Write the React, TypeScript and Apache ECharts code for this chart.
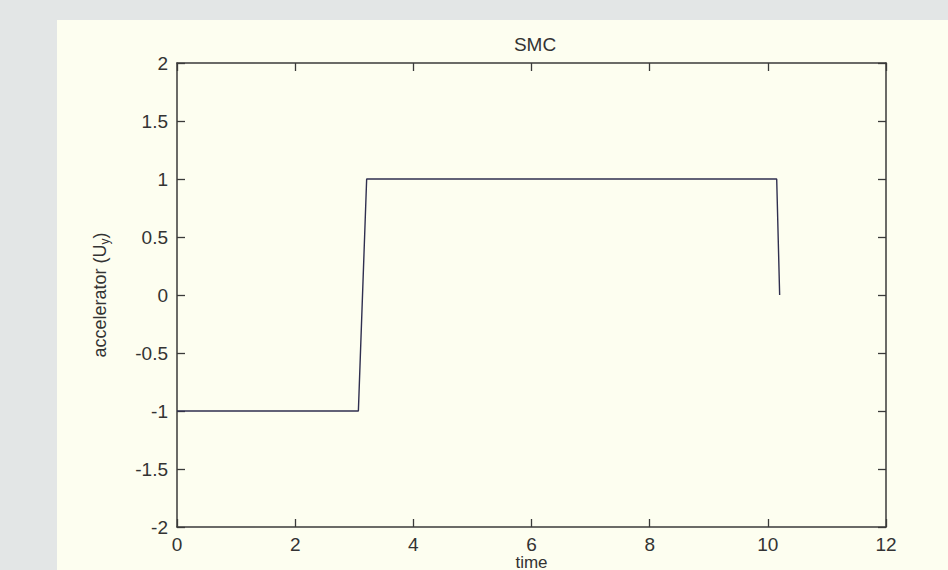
import React, { useEffect, useRef } from "react";
import * as echarts from "echarts";

const timeValues = [0, 3.07, 3.21, 10.15, 10.2];
const accelValues = [-1, -1, 1, 1, 0];
const xTicks = { min: 0, max: 12, interval: 2 };
const yTicks = { min: -2, max: 2, interval: 0.5 };
const titleText = "SMC";
const xName = "time";

const FONT = "'Liberation Sans', Arial, sans-serif";
const AXIS_COLOR = "#3a3a3a";
const TEXT_COLOR = "#333333";

export default function App() {
  const ref = useRef<HTMLDivElement>(null);
  useEffect(() => {
    document.body.style.margin = "0";
    if (!ref.current) return;
    const chart = echarts.init(ref.current, undefined, { renderer: "svg" });
    const data = timeValues.map((t, i) => [t, accelValues[i]]);
    const axisLine = { show: true, onZero: false, lineStyle: { color: AXIS_COLOR, width: 1.5 } };
    const axisTick = { show: true, inside: true, length: 8, lineStyle: { color: AXIS_COLOR, width: 1.3 } };
    chart.setOption({
      animation: false,
      backgroundColor: "transparent",
      textStyle: { fontFamily: FONT },
      title: {
        text: titleText,
        left: 530,
        top: 30,
        textAlign: "center",
        textStyle: { fontFamily: FONT, fontSize: 19, fontWeight: "normal", color: TEXT_COLOR },
      },
      grid: { left: 177, top: 63, width: 709, height: 464, containLabel: false, outerBoundsMode: "none" },
      xAxis: [
        {
          type: "value",
          position: "bottom",
          ...xTicks,
          name: xName,
          nameLocation: "middle",
          nameGap: 27,
          nameMoveOverlap: false,
          nameTextStyle: { fontFamily: FONT, fontSize: 17, color: TEXT_COLOR, lineHeight: 17 },
          axisLine,
          axisTick,
          splitLine: { show: false },
          axisLabel: { fontFamily: FONT, fontSize: 19, color: TEXT_COLOR, margin: 8 },
        },
        {
          type: "value",
          position: "top",
          ...xTicks,
          axisLine,
          axisTick,
          splitLine: { show: false },
          axisLabel: { show: false },
        },
      ],
      yAxis: [
        {
          type: "value",
          position: "left",
          ...yTicks,
          name: "accelerator (U{sub|y})",
          nameLocation: "middle",
          nameGap: 66,
          nameRotate: 90,
          nameMoveOverlap: false,
          nameTextStyle: {
            fontFamily: FONT,
            fontSize: 18,
            color: TEXT_COLOR,
            rich: {
              sub: { fontFamily: FONT, fontSize: 12, color: TEXT_COLOR, padding: [10, 0, 0, 0] },
            },
          },
          axisLine,
          axisTick,
          splitLine: { show: false },
          axisLabel: { fontFamily: FONT, fontSize: 19, color: TEXT_COLOR, margin: 9 },
        },
        {
          type: "value",
          position: "right",
          ...yTicks,
          axisLine,
          axisTick,
          splitLine: { show: false },
          axisLabel: { show: false },
        },
      ],
      series: [
        {
          type: "line",
          data,
          xAxisIndex: 0,
          yAxisIndex: 0,
          showSymbol: false,
          symbol: "none",
          lineStyle: { color: "#2f2f4f", width: 1.4 },
        },
      ],
    });
    return () => chart.dispose();
  }, []);
  return (
    <div style={{ position: "absolute", left: 0, top: 0, width: 948, height: 570, background: "#e3e6e6", overflow: "hidden" }}>
      <div style={{ position: "absolute", left: 57, top: 20, width: 891, height: 550, background: "#fdfef0" }} />
      <div ref={ref} style={{ position: "absolute", left: 0, top: 0, width: 948, height: 570 }} />
    </div>
  );
}
